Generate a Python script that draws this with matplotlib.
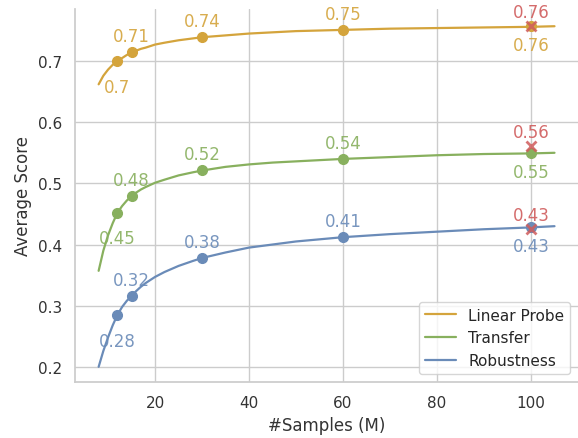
import matplotlib
matplotlib.use("Agg")
import matplotlib.pyplot as plt
import seaborn as sns

sns.set_theme(style="whitegrid")
plt.rcParams['font.family'] = ['DejaVu Sans']

# measured points
samples = [12, 15, 30, 60, 100]
linear_probe = [0.700, 0.715, 0.739, 0.751, 0.757]
transfer = [0.452, 0.479, 0.522, 0.540, 0.549]
robustness = [0.285, 0.316, 0.378, 0.412, 0.428]

# fitted trend curves
curve_x = [8, 9, 10, 11, 12, 13, 14, 15, 16, 17, 18, 20, 22, 25, 28, 30, 35, 40, 45, 50, 60, 70, 80, 90, 100, 105]
curve_lp = [0.662, 0.676, 0.686, 0.694, 0.700, 0.705, 0.710, 0.714, 0.717, 0.720, 0.722, 0.727, 0.730, 0.734, 0.737, 0.739, 0.742, 0.745, 0.747, 0.749, 0.751, 0.753, 0.754, 0.755, 0.756, 0.757]
curve_tr = [0.357, 0.390, 0.415, 0.435, 0.452, 0.463, 0.472, 0.479, 0.485, 0.490, 0.494, 0.501, 0.506, 0.513, 0.518, 0.521, 0.527, 0.531, 0.534, 0.536, 0.540, 0.543, 0.546, 0.548, 0.549, 0.550]
curve_rb = [0.200, 0.226, 0.248, 0.268, 0.285, 0.298, 0.308, 0.316, 0.324, 0.331, 0.337, 0.347, 0.355, 0.365, 0.373, 0.378, 0.387, 0.395, 0.400, 0.405, 0.412, 0.417, 0.421, 0.425, 0.428, 0.430]

# predicted values at 100M
pred_x = [100, 100, 100]
pred_y = [0.757, 0.561, 0.425]

lp_labels = ["0.7", "0.71", "0.74", "0.75", "0.76"]
tr_labels = ["0.45", "0.48", "0.52", "0.54", "0.55"]
rb_labels = ["0.28", "0.32", "0.38", "0.41", "0.43"]
pred_labels = ["0.76", "0.56", "0.43"]

c_lp = "#d4a43c"
c_tr = "#88b05e"
c_rb = "#6a8bb8"
c_red = "#d05c5c"

fig = plt.figure(figsize=(5.78, 4.39), dpi=100)
ax = fig.add_axes([0.13, 0.128, 0.87, 0.849])

ax.plot(curve_x, curve_lp, color=c_lp, lw=1.6, label="Linear Probe")
ax.plot(curve_x, curve_tr, color=c_tr, lw=1.6, label="Transfer")
ax.plot(curve_x, curve_rb, color=c_rb, lw=1.6, label="Robustness")

ax.plot(samples, linear_probe, 'o', color=c_lp, ms=7)
ax.plot(samples, transfer, 'o', color=c_tr, ms=7)
ax.plot(samples, robustness, 'o', color=c_rb, ms=7)
ax.plot(pred_x, pred_y, 'x', color=c_red, ms=7, mew=2, alpha=0.85)

# label offsets in points (positive = above, negative = below)
offsets = [-12, 5, 5, 5, -7]

for ys, labs, col in [(linear_probe, lp_labels, c_lp),
                      (transfer, tr_labels, c_tr),
                      (robustness, rb_labels, c_rb)]:
    for x, y, t, off in zip(samples, ys, labs, offsets):
        ax.annotate(t, (x, y), textcoords="offset points", xytext=(0, off),
                    ha='center', va='bottom' if off > 0 else 'top',
                    color=col, fontsize=12, alpha=0.9)

for x, y, t in zip(pred_x, pred_y, pred_labels):
    ax.annotate(t, (x, y), textcoords="offset points", xytext=(0, 4),
                ha='center', va='bottom', color=c_red, fontsize=12, alpha=0.9)

ax.set_xlim(3, 110)
ax.set_ylim(0.1755, 0.785)
ax.set_xticks([20, 40, 60, 80, 100])
ax.set_yticks([0.2, 0.3, 0.4, 0.5, 0.6, 0.7])
ax.tick_params(labelsize=11, colors="#333333")
ax.set_xlabel("#Samples (M)", fontsize=12, color="#333333")
ax.set_ylabel("Average Score", fontsize=12, color="#333333")

for s in ["top", "right"]:
    ax.spines[s].set_visible(False)
for s in ["left", "bottom"]:
    ax.spines[s].set_color("#cccccc")

ax.legend(loc="lower right", fontsize=11)

fig.savefig("out.png", dpi=100)
